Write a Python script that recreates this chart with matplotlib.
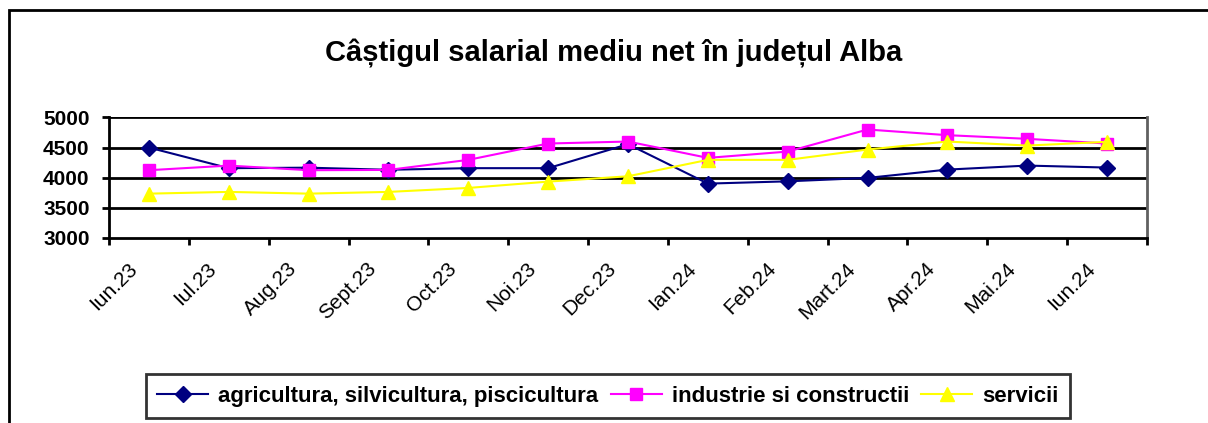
import matplotlib.pyplot as plt
from matplotlib.patches import Rectangle
from matplotlib.transforms import ScaledTranslation, blended_transform_factory
import numpy as np

plt.rcParams['font.family'] = ['Liberation Sans', 'DejaVu Sans']

luni = ['Iun.23', 'Iul.23', 'Aug.23', 'Sept.23', 'Oct.23', 'Noi.23', 'Dec.23',
        'Ian.24', 'Feb.24', 'Mart.24', 'Apr.24', 'Mai.24', 'Iun.24']
agricultura = [4500, 4157, 4165, 4130, 4157, 4157, 4556, 3900, 3938, 3995, 4133, 4200, 4167]
industrie = [4123, 4200, 4123, 4128, 4295, 4567, 4600, 4328, 4433, 4800, 4706, 4645, 4567]
servicii = [3733, 3762, 3733, 3762, 3828, 3933, 4022, 4295, 4295, 4467, 4600, 4533, 4595]
yticks = [3000, 3500, 4000, 4500, 5000]

fig = plt.figure(figsize=(12.08, 4.23), dpi=100)
# outer chart frame (right and bottom run past the picture)
fig.patches.append(Rectangle((9 / 1208, -0.1), 1.2, 1 - 10 / 423 + 0.1,
                             transform=fig.transFigure, fill=False,
                             edgecolor='black', linewidth=2))

ax = fig.add_axes([109 / 1208, 1 - 237.7 / 423, (1147 - 109) / 1208, (237.7 - 117.5) / 423])
x = np.arange(len(luni))

ax.plot(x, agricultura, color='#000080', marker='D', markersize=8, linewidth=1.5,
        label='agricultura, silvicultura, piscicultura')
ax.plot(x, industrie, color='#FF00FF', marker='s', markersize=9, linewidth=1.5,
        label='industrie si constructii')
ax.plot(x, servicii, color='#FFFF00', marker='^', markersize=10, linewidth=1.5,
        label='servicii')

ax.set_xlim(-0.5, len(luni) - 0.5)
ax.set_ylim(3000, 5000)
ax.set_yticks(yticks)
ax.set_yticklabels([str(v) for v in yticks], fontsize=15, fontweight='bold')
for v in yticks[1:]:
    ax.axhline(v, color='black', linewidth=2, zorder=1)

# ticks between the months, month names written under them
ax.set_xticks(np.arange(len(luni) + 1) - 0.5)
ax.set_xticklabels([])
ax.tick_params(axis='x', length=5, width=2, direction='out')
ax.tick_params(axis='y', length=5, width=2, direction='out', pad=9)
lab_tr = blended_transform_factory(ax.transData, ax.transAxes) + \
    ScaledTranslation(-15 / 100, -28 / 100, fig.dpi_scale_trans)
for i, name in enumerate(luni):
    ax.text(i, 0, name, transform=lab_tr, rotation=45, rotation_mode='anchor',
            ha='right', va='center', fontsize=15)

ax.spines['top'].set_visible(False)
ax.spines['left'].set_linewidth(2)
ax.spines['bottom'].set_linewidth(2)
ax.spines['right'].set_color('#606060')
ax.spines['right'].set_linewidth(2)

fig.text(613.5 / 1208, 1 - 53 / 423, 'Câștigul salarial mediu net în județul Alba',
         ha='center', va='center', fontsize=21, fontweight='bold')

leg = fig.legend(loc='center', bbox_to_anchor=(608 / 1208, 1 - 396 / 423), ncol=3,
                 frameon=True, fancybox=False, handlelength=2.3,
                 columnspacing=0.55, handletextpad=0.45, borderpad=0.5,
                 prop={'weight': 'bold', 'size': 16})
leg.get_frame().set_edgecolor('black')
leg.get_frame().set_linewidth(2)

fig.savefig('out.png', dpi=100)
